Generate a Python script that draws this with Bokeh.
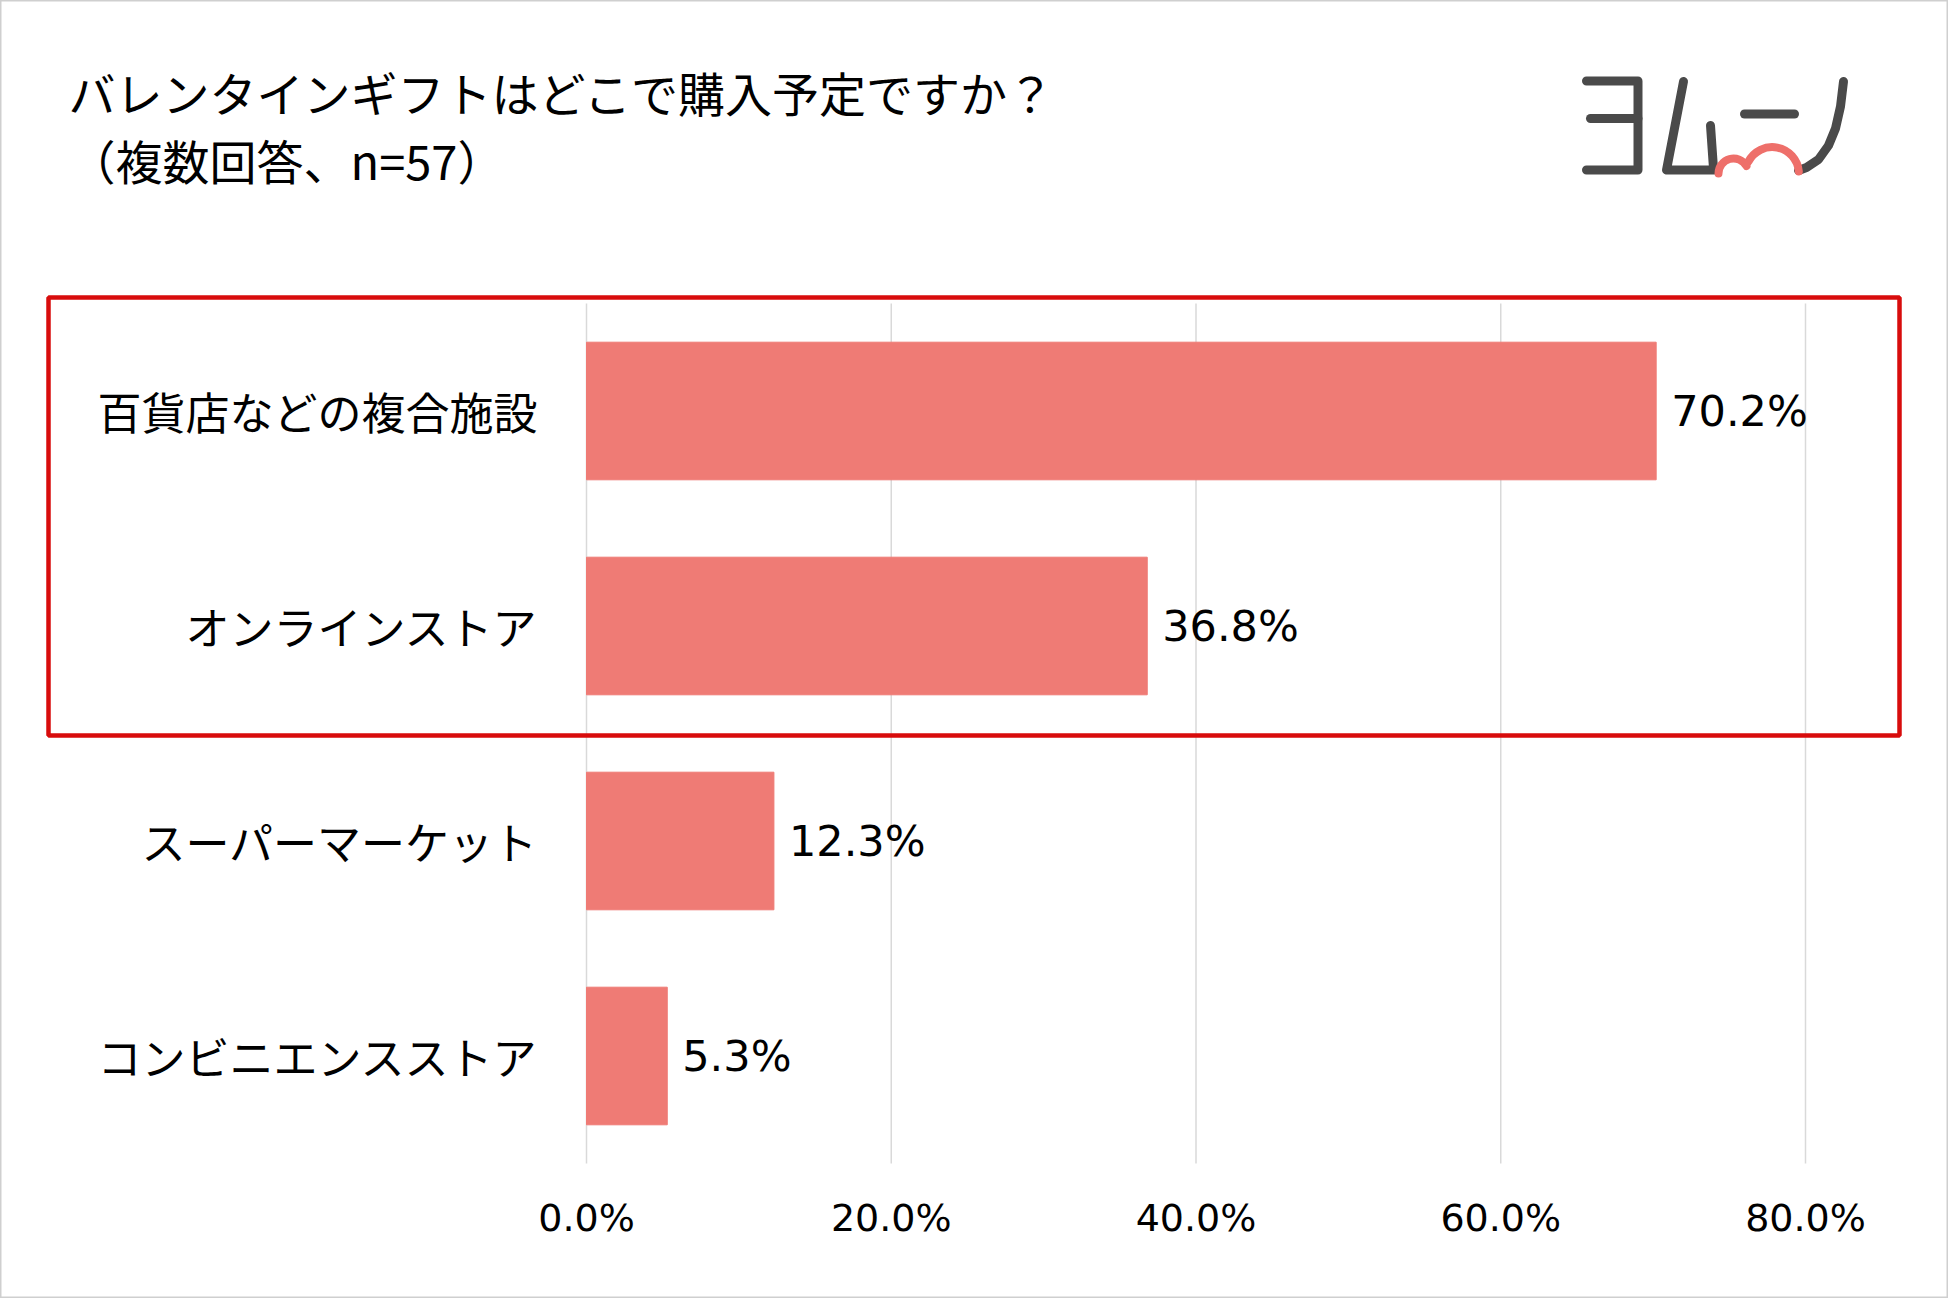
import math
from bokeh.plotting import figure
from bokeh.models import Range1d, ColumnDataSource
from bokeh.embed import file_html
from bokeh.resources import INLINE
from bokeh.core.properties import value

# ---------------- data ----------------
categories = ["百貨店などの複合施設", "オンラインストア", "スーパーマーケット", "コンビニエンスストア"]
percentages = [70.2, 36.8, 12.3, 5.3]
x_ticks = [0, 20, 40, 60, 80]
tick_labels = ["0.0%", "20.0%", "40.0%", "60.0%", "80.0%"]
title_lines = ["バレンタインギフトはどこで購入予定ですか？", "（複数回答、n=57）"]
highlighted = ["百貨店などの複合施設", "オンラインストア"]

# ---------------- layout constants (reference pixels) ----------------
OFF = 0
W, H = 1948, 1298
X0_PX, X80_PX = 586, 1805          # pixel of 0% and 80%
PLOT_TOP_PX, PLOT_BOT_PX = 303, 1163
X_MAX = 80
ppx = (X80_PX - X0_PX) / X_MAX
band = (PLOT_BOT_PX - PLOT_TOP_PX) / len(categories)

def dx(X):
    return (X - X0_PX) / ppx

def dy(Y):
    return (PLOT_BOT_PX - Y) / band

CJK = "Noto Sans CJK JP"
NUM = "DejaVu Sans"
BAR = "#EF7B75"
RED = "#D80C0C"
DARK = "#4a4a4a"
LRED = "#EE6F6A"

p = figure(width=W, height=H,
           x_range=Range1d(dx(OFF), dx(OFF + W)),
           y_range=Range1d(dy(OFF + H), dy(OFF)),
           min_border=0, toolbar_location=None, output_backend="svg",
           x_axis_type=None, y_axis_type=None)
p.outline_line_color = "#cfcfcf"
p.outline_line_width = 2
p.background_fill_color = "white"
p.border_fill_color = "white"

n = len(categories)
ypos = [n - 0.5 - i for i in range(n)]

# grid lines from tick values
p.segment(x0=x_ticks, x1=x_ticks, y0=[0] * len(x_ticks), y1=[n] * len(x_ticks),
          line_color="#d9d9d9", line_width=1.5)

# bars
src = ColumnDataSource(dict(y=ypos, val=percentages, cat=categories,
                            label=[f"{v:.1f}%" for v in percentages]))
p.hbar(y="y", right="val", left=0, height=0.64, source=src,
       fill_color=BAR, line_color=BAR, line_width=1)

# value labels
p.text(x="val", y="y", text="label", source=src, x_offset=15,
       text_baseline="middle", text_align="left",
       text_font=value(NUM), text_font_size="43px", text_color="#000000")

# category labels (y axis)
p.text(x=[0] * n, y=ypos, text=categories, x_offset=-49,
       text_baseline="middle", text_align="right",
       text_font=value(CJK), text_font_size="44px", text_color="#000000")

# tick labels (x axis)
p.text(x=x_ticks, y=[dy(1217)] * len(x_ticks), text=tick_labels,
       text_baseline="middle", text_align="center",
       text_font=value(NUM), text_font_size="38px", text_color="#000000")

# highlight box around the first categories
n_hi = len(highlighted)
pad_top = (PLOT_TOP_PX - 297) / band
p.quad(left=[dx(48)], right=[dx(1899)], top=[n + pad_top],
       bottom=[n - n_hi - (735 - PLOT_TOP_PX - n_hi * band) / band],
       fill_color=None, line_color=RED, line_width=4.5)

# title
p.text(x=[dx(68), dx(68)], y=[dy(91), dy(159)], text=title_lines,
       text_font=value(CJK), text_font_size="47px", text_baseline="middle",
       text_align="left", text_color="#000000")

# logo (decoration)
strokes = [
    [(1586, 80.5), (1637.5, 80.5), (1637.5, 169.5), (1586, 169.5)],
    [(1590, 118), (1637.5, 118)],
    [(1683, 81), (1666, 169.5), (1714, 169.5)],
    [(1710, 125), (1713, 168)],
    [(1744, 113.5), (1794, 113.5)],
    [(1843, 81), (1840, 106), (1835, 128), (1828, 145), (1818, 159), (1806, 167), (1798, 170)],
]
p.multi_line(xs=[[dx(a) for a, b in s] for s in strokes],
             ys=[[dy(b) for a, b in s] for s in strokes],
             line_color=DARK, line_width=9, line_cap="round", line_join="round")
p.arc(x=[dx(1771.7), dx(1733)], y=[dy(173.3), dy(173)],
      radius=[26.7 / ppx, 15 / ppx],
      start_angle=[math.radians(5), math.radians(30)],
      end_angle=[math.radians(153), math.radians(180)],
      line_color=LRED, line_width=8, line_cap="round")

open("out.html", "w").write(file_html(p, INLINE))
